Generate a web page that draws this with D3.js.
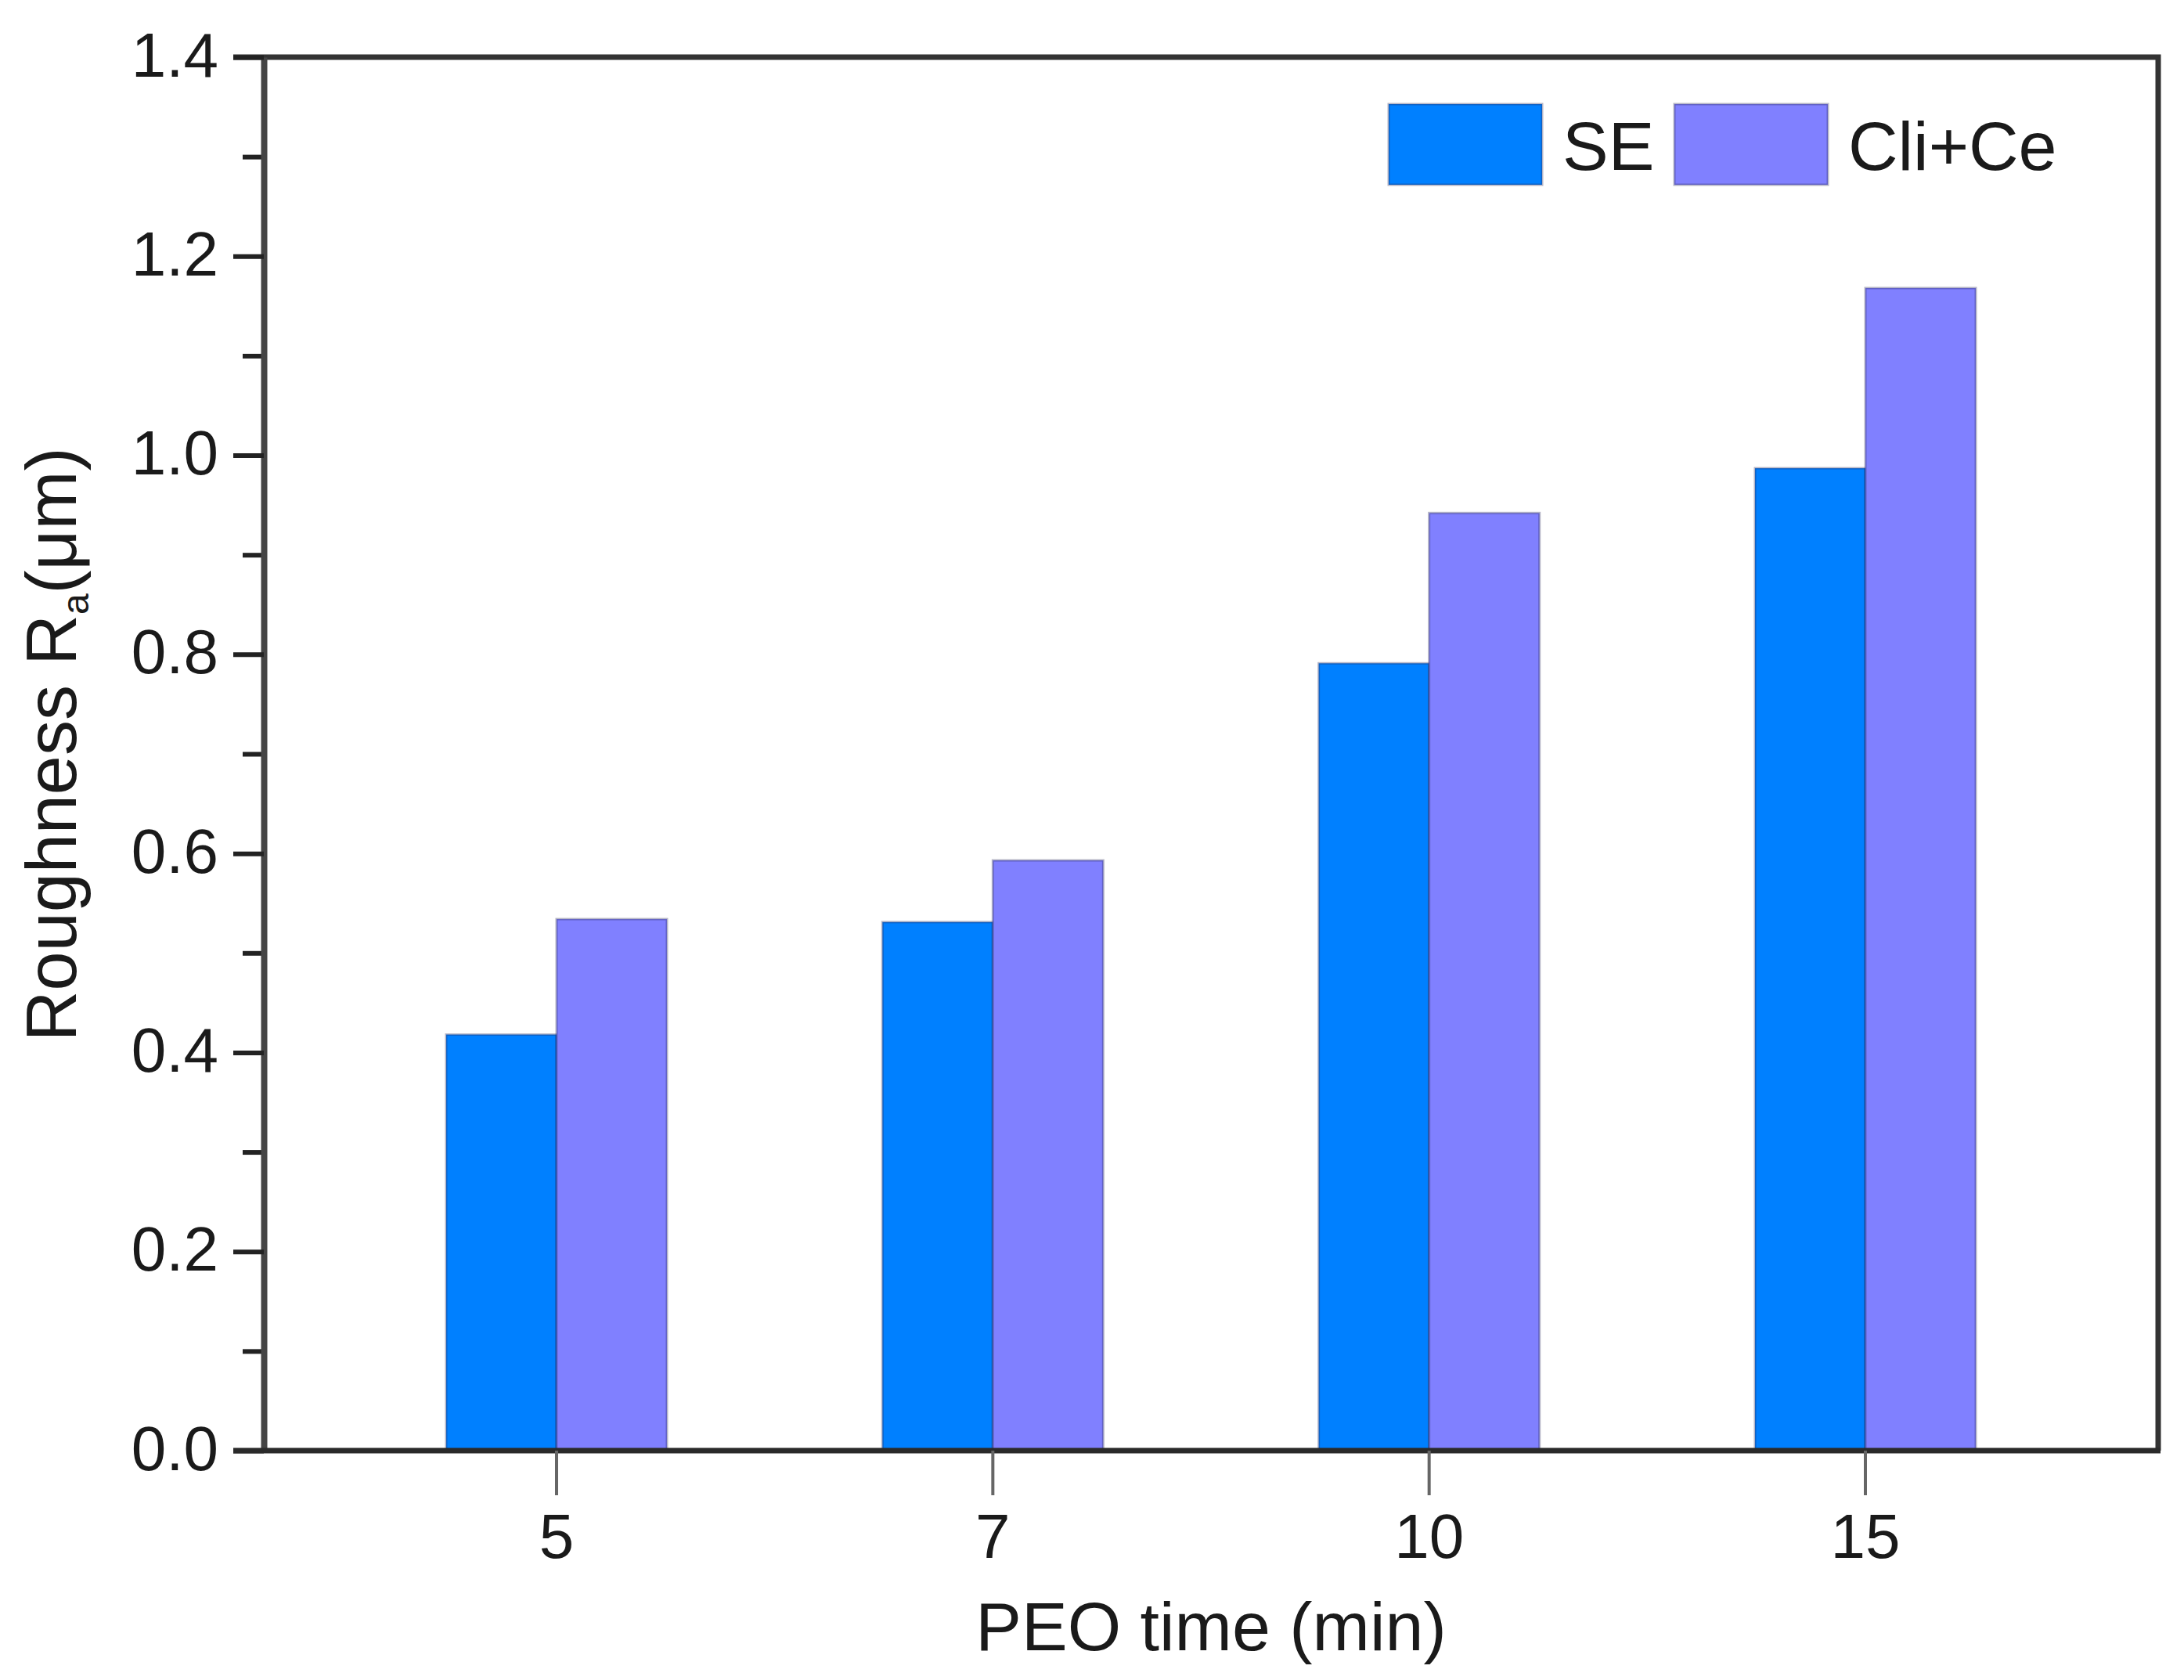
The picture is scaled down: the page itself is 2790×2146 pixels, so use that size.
<!DOCTYPE html>
<html>
<head>
<meta charset="utf-8">
<script src="https://cdn.jsdelivr.net/npm/d3@7"></script>
<style>
  body { margin: 0; background: #fff; }
  svg { display: block; font-family: "Liberation Sans", Arial, sans-serif; }
</style>
</head>
<body>
<svg id="chart" width="2790" height="2146" viewBox="0 0 2790 2146"></svg>
<script>
const times = ["5", "7", "10", "15"];
const seriesNames = ["SE", "Cli+Ce"];
const seValues = [0.418, 0.531, 0.791, 0.987];
const cliCeValues = [0.534, 0.593, 0.942, 1.168];
const seriesColors = ["#0080ff", "#8080ff"];
const yMajorTicks = [0.0, 0.2, 0.4, 0.6, 0.8, 1.0, 1.2, 1.4];
const yMinorTicks = [0.1, 0.3, 0.5, 0.7, 0.9, 1.1, 1.3];

const svg = d3.select("#chart");
const margin = { top: 73, right: 33, bottom: 293, left: 337 };
const width = 2790, height = 2146;

const x0 = d3.scaleBand().domain(times)
  .range([margin.left, width - margin.right])
  .paddingInner(0.494).paddingOuter(0.418);
const x1 = d3.scaleBand().domain(seriesNames).range([0, x0.bandwidth()]).padding(0);
const y = d3.scaleLinear().domain([0, 1.4]).range([height - margin.bottom, margin.top]);
const color = d3.scaleOrdinal().domain(seriesNames).range(seriesColors);

const rows = times.map((t, i) => ({ time: t, values: [
  { key: "SE", value: seValues[i] },
  { key: "Cli+Ce", value: cliCeValues[i] }
]}));

// bars
svg.append("g").selectAll("g").data(rows).join("g")
  .attr("transform", d => `translate(${x0(d.time)},0)`)
  .selectAll("rect").data(d => d.values).join("rect")
  .attr("x", d => x1(d.key))
  .attr("y", d => y(d.value))
  .attr("width", x1.bandwidth())
  .attr("height", d => y(0) - y(d.value))
  .attr("fill", d => color(d.key))
  .attr("stroke", "rgba(40,40,90,0.35)")
  .attr("stroke-width", 3);

const [xL, xR] = x0.range();
const [yB, yT] = y.range();

// frame top/right
svg.append("path")
  .attr("d", `M${xL - 39},${yT} H${xR} V${yB}`)
  .attr("fill", "none").attr("stroke", "#333").attr("stroke-width", 7);

// y axis minor ticks
const yMinor = svg.append("g").attr("transform", `translate(${xL},0)`)
  .call(d3.axisLeft(y).tickValues(yMinorTicks).tickSize(27).tickFormat(""));
yMinor.select(".domain").remove();
yMinor.selectAll("line").attr("stroke", "#222").attr("stroke-width", 6);

// y axis major
const yAxis = svg.append("g").attr("transform", `translate(${xL},0)`)
  .call(d3.axisLeft(y).tickValues(yMajorTicks).tickSize(39).tickPadding(19)
    .tickSizeOuter(0).tickFormat(d3.format(".1f")));
yAxis.select(".domain").attr("stroke", "#444").attr("stroke-width", 8);
yAxis.selectAll(".tick line").attr("stroke", "#222").attr("stroke-width", 6);
yAxis.selectAll("text").attr("font-size", 80).attr("fill", "#1a1a1a").attr("dy", "0.3em")
  .attr("font-family", "Liberation Sans, Arial, sans-serif");

// x axis
const xAxis = svg.append("g").attr("transform", `translate(0,${yB})`)
  .call(d3.axisBottom(x0).tickSize(57).tickPadding(23).tickSizeOuter(0));
xAxis.select(".domain").attr("d", `M${xL - 39},0H${xR + 3}`)
  .attr("stroke", "#2a2a2a").attr("stroke-width", 7);
xAxis.selectAll(".tick line").attr("stroke", "#666").attr("stroke-width", 4);
xAxis.selectAll("text").attr("font-size", 80).attr("fill", "#1a1a1a")
  .attr("font-family", "Liberation Sans, Arial, sans-serif");

// axis titles
svg.append("text")
  .attr("x", (xL + xR) / 2).attr("y", 2108)
  .attr("text-anchor", "middle").attr("font-size", 88).attr("fill", "#1a1a1a")
  .text("PEO time (min)");

const yTitle = svg.append("text")
  .attr("transform", `translate(97,951) rotate(-90)`)
  .attr("text-anchor", "middle").attr("font-size", 90).attr("fill", "#1a1a1a");
yTitle.append("tspan").text("Roughness R");
yTitle.append("tspan").attr("font-size", 48).attr("dy", 16).text("a");
yTitle.append("tspan").attr("dy", -16).text("(\u03bcm)");

// legend
const legendX = [1774, 2139];
const legend = svg.append("g").selectAll("g").data(seriesNames).join("g")
  .attr("transform", (d, i) => `translate(${legendX[i]},133)`);
legend.append("rect")
  .attr("width", 196).attr("height", 103)
  .attr("fill", d => color(d))
  .attr("stroke", "rgba(40,40,90,0.35)").attr("stroke-width", 3);
legend.append("text")
  .attr("x", 222).attr("y", 84)
  .attr("font-size", 88).attr("fill", "#1a1a1a")
  .text(d => d);
</script>
</body>
</html>
